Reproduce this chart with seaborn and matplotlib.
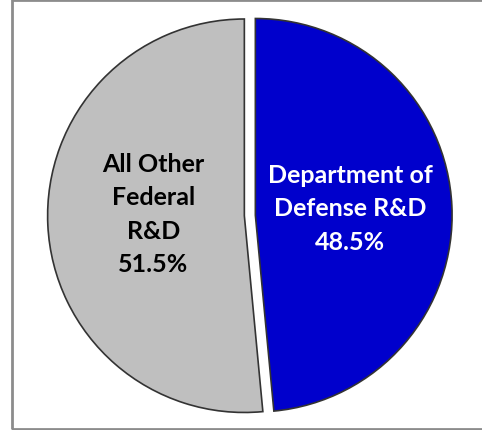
import seaborn as sns
import matplotlib.pyplot as plt
from matplotlib.patches import Rectangle

labels = ["Department of\nDefense R&D", "All Other\nFederal\nR&D"]
shares = [48.5, 51.5]
colors = ["#0000CC", "#BFBFBF"]
text_colors = ["white", "black"]

sns.set_theme(style="white")
plt.rcParams["font.family"] = ["Lato", "DejaVu Sans"]

fig = plt.figure(figsize=(4.82, 4.31), dpi=100)
ax = fig.add_axes([0.0, 0.0, 1.0, 1.0])

# gray frame around the chart area (right side runs off the picture)
fig.patches.append(Rectangle((12 / 482, 1 / 431), 1.0, 429 / 431, transform=fig.transFigure,
                             fill=False, edgecolor="#8C8C8C", linewidth=2))

wedges, texts = ax.pie(shares, colors=colors, startangle=90, counterclock=False,
                       explode=[0.028, 0.028], radius=1.0,
                       wedgeprops={"edgecolor": "#333333", "linewidth": 1.2})

pos = [(0.51, 0.04), (-0.49, 0.01)]
for lab, val, (x, y), tc in zip(labels, shares, pos, text_colors):
    ax.text(x, y, f"{lab}\n{val}%", ha="center", va="center", color=tc,
            fontsize=18, fontweight="bold", linespacing=1.55)

ax.set_xlim(-1.27, 1.18)
ax.set_ylim(-1.09, 1.10)
ax.set_aspect("equal")
ax.axis("off")

fig.savefig("out.png", dpi=100)
